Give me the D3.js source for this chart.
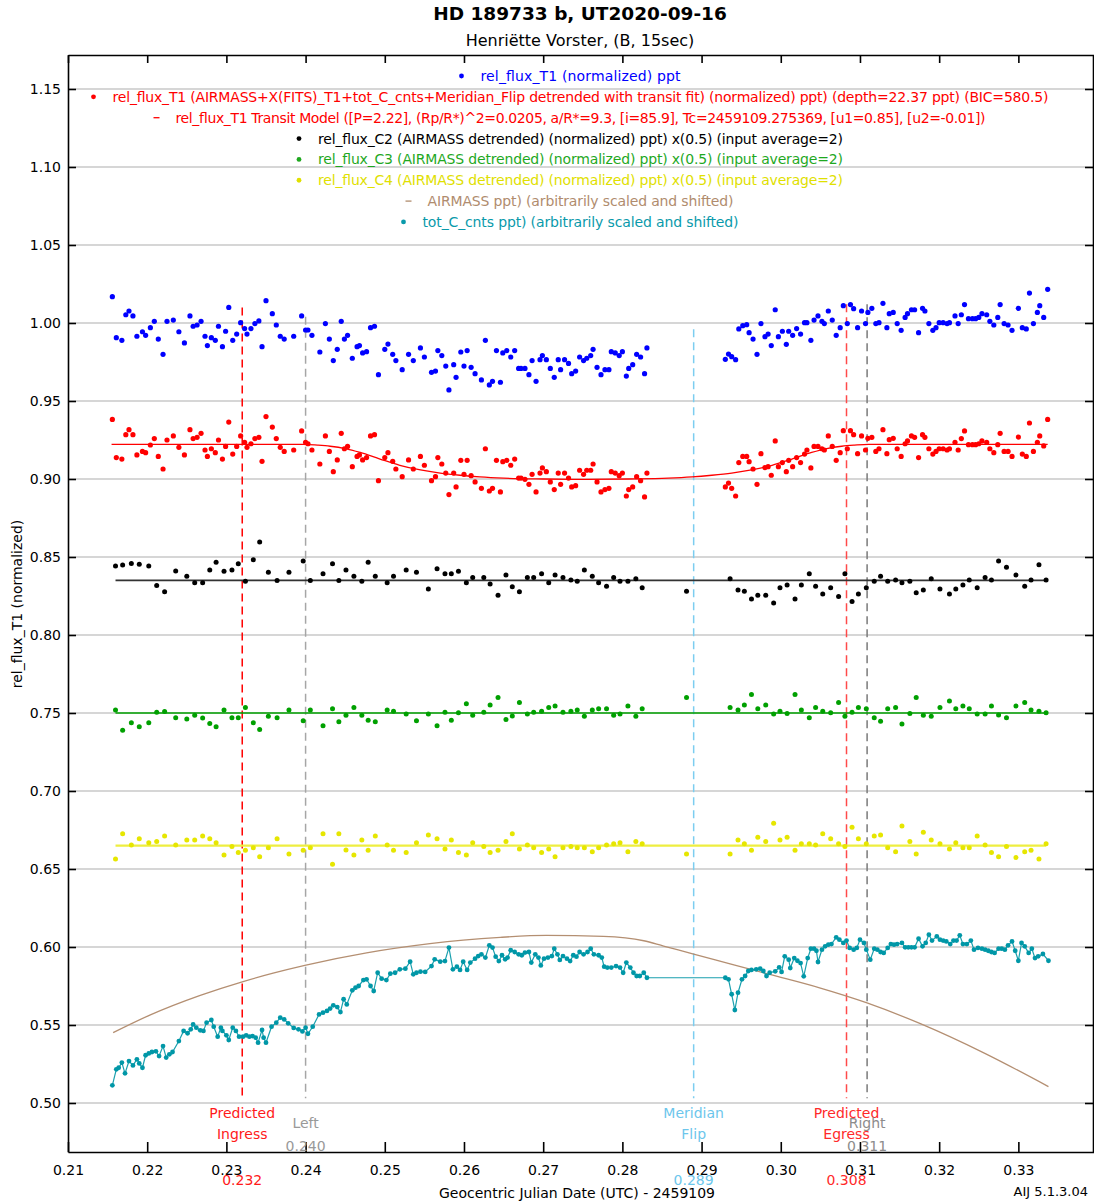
<!DOCTYPE html>
<html><head><meta charset="utf-8">
<script src="https://cdn.jsdelivr.net/npm/d3@7"></script>
<style>body{margin:0;background:#fff;} svg{display:block;font-family:"DejaVu Sans",sans-serif;}</style>
</head><body><svg id="c" width="1094" height="1204"></svg>
<script>
// ---------------- DATA ----------------
const t1Time = [0.2156,0.2161,0.2168,0.2173,0.2177,0.2182,0.2187,0.2194,0.2198,0.2204,
0.2209,0.2214,0.2220,0.2225,0.2233,0.2240,0.2247,0.2254,0.2258,0.2263,
0.2268,0.2273,0.2276,0.2281,0.2286,0.2290,0.2295,0.2299,0.2303,0.2308,
0.2313,0.2318,0.2323,0.2326,0.2331,0.2336,0.2341,0.2345,0.2350,0.2358,
0.2363,0.2368,0.2373,0.2385,0.2395,0.2400,0.2403,0.2408,0.2418,0.2425,
0.2430,0.2435,0.2440,0.2445,0.2449,0.2453,0.2459,0.2465,0.2468,0.2472,
0.2477,0.2482,0.2487,0.2492,0.2500,0.2504,0.2510,0.2514,0.2522,0.2530,
0.2536,0.2545,0.2550,0.2559,0.2564,0.2567,0.2572,0.2577,0.2581,0.2587,
0.2590,0.2596,0.2600,0.2604,0.2609,0.2614,0.2622,0.2627,0.2632,0.2636,
0.2641,0.2646,0.2649,0.2654,0.2659,0.2664,0.2669,0.2672,0.2677,0.2682,
0.2686,0.2691,0.2696,0.2699,0.2704,0.2709,0.2714,0.2719,0.2722,0.2727,
0.2732,0.2736,0.2741,0.2746,0.2751,0.2755,0.2760,0.2763,0.2768,0.2773,
0.2778,0.2783,0.2786,0.2791,0.2796,0.2800,0.2805,0.2808,0.2813,0.2818,
0.2823,0.2828,0.2831,
0.2930,0.2934,0.2938,0.2943,0.2947,0.2952,0.2957,0.2960,0.2965,0.2970,
0.2975,0.2980,0.2984,0.2988,0.2993,0.2997,0.3002,0.3007,0.3010,0.3015,
0.3020,0.3025,0.3030,0.3033,0.3038,0.3042,0.3047,0.3052,0.3055,0.3060,
0.3065,0.3070,0.3075,0.3079,0.3084,0.3088,0.3092,0.3097,0.3102,0.3107,
0.3110,0.3115,0.3120,0.3124,0.3129,0.3134,0.3137,0.3142,0.3147,0.3152,
0.3157,0.3160,0.3165,0.3169,0.3174,0.3179,0.3182,0.3187,0.3192,0.3196,
0.3200,0.3205,0.3210,0.3213,0.3220,0.3224,0.3228,0.3232,0.3237,0.3242,
0.3246,0.3250,0.3254,0.3260,0.3264,0.3269,0.3274,0.3277,0.3282,0.3287,
0.3292,0.3300,0.3305,0.3310,0.3314,0.3319,0.3324,0.3327,0.3332,0.3337];

const t1Flux = [1.0169,0.9906,0.9889,1.0053,1.0077,1.0045,0.9915,0.9944,0.9921,0.9970,
1.0011,0.9897,0.9799,1.0011,1.0019,0.9944,0.9872,1.0045,0.9979,0.9987,
1.0011,0.9915,0.9855,0.9906,0.9889,0.9979,0.9848,0.9947,1.0100,0.9889,
0.9929,1.0002,0.9964,0.9929,0.9964,0.9996,1.0013,0.9848,1.0143,1.0060,
0.9987,0.9915,0.9897,0.9915,1.0045,0.9955,0.9955,0.9921,0.9814,0.9996,
0.9897,0.9759,0.9831,1.0011,0.9897,0.9921,0.9774,0.9848,0.9855,0.9808,
0.9816,0.9970,0.9979,0.9669,0.9831,0.9865,0.9799,0.9759,0.9701,0.9799,
0.9759,0.9840,0.9782,0.9684,0.9692,0.9823,0.9791,0.9724,0.9571,0.9733,
0.9652,0.9814,0.9724,0.9823,0.9716,0.9675,0.9635,0.9889,0.9603,0.9626,
0.9823,0.9620,0.9808,0.9823,0.9782,0.9823,0.9709,0.9709,0.9709,0.9669,
0.9759,0.9626,0.9765,0.9791,0.9765,0.9709,0.9652,0.9765,0.9701,0.9765,
0.9741,0.9675,0.9692,0.9782,0.9759,0.9774,0.9791,0.9831,0.9716,0.9669,
0.9701,0.9701,0.9816,0.9808,0.9791,0.9816,0.9660,0.9709,0.9733,0.9799,
0.9782,0.9675,0.9840,
0.9767,0.9801,0.9784,0.9765,0.9962,0.9983,0.9989,0.9938,0.9897,0.9799,
0.9996,0.9912,0.9929,0.9855,1.0085,0.9912,0.9947,0.9863,0.9947,0.9921,
0.9964,0.9929,1.0002,1.0002,0.9889,1.0019,1.0045,1.0011,0.9996,1.0077,
1.0019,0.9921,0.9970,1.0111,0.9996,1.0118,1.0092,0.9970,1.0077,0.9996,
1.0068,1.0094,0.9996,1.0002,1.0126,0.9970,1.0060,1.0068,0.9996,0.9953,
1.0036,1.0060,1.0085,1.0085,0.9938,1.0094,1.0077,0.9996,0.9953,0.9970,
1.0002,1.0002,0.9996,1.0002,1.0045,0.9996,1.0053,1.0118,1.0028,1.0028,
1.0028,1.0036,1.0060,1.0053,1.0011,0.9987,1.0036,1.0118,0.9996,0.9987,
0.9953,1.0094,0.9970,0.9962,1.0192,0.9996,1.0068,1.0111,1.0036,1.0216];

const t1Detrended = [0.9382,0.9137,0.9128,0.9284,0.9316,0.9284,0.9154,0.9177,0.9169,0.9218,
0.9259,0.9145,0.9064,0.9250,0.9276,0.9203,0.9154,0.9316,0.9259,0.9267,
0.9293,0.9186,0.9145,0.9194,0.9169,0.9250,0.9128,0.9209,0.9365,0.9160,
0.9209,0.9276,0.9235,0.9203,0.9226,0.9259,0.9267,0.9113,0.9400,0.9333,
0.9259,0.9203,0.9177,0.9186,0.9308,0.9235,0.9226,0.9186,0.9096,0.9276,
0.9177,0.9047,0.9122,0.9293,0.9194,0.9209,0.9079,0.9145,0.9154,0.9122,
0.9137,0.9276,0.9284,0.8989,0.9137,0.9169,0.9113,0.9064,0.9015,0.9122,
0.9064,0.9145,0.9088,0.8989,0.9015,0.9137,0.9096,0.9038,0.8900,0.9038,
0.8949,0.9120,0.9030,0.9120,0.9021,0.8981,0.8940,0.9194,0.8923,0.8940,
0.9120,0.8917,0.9111,0.9120,0.9088,0.9128,0.9006,0.9006,0.8998,0.8966,
0.9030,0.8917,0.9038,0.9071,0.9047,0.8981,0.8932,0.9038,0.8966,0.9038,
0.9006,0.8949,0.8957,0.9056,0.9030,0.9056,0.9056,0.9096,0.8981,0.8917,
0.8932,0.8940,0.9047,0.9038,0.9021,0.9038,0.8891,0.8932,0.8949,0.9015,
0.8989,0.8885,0.9038,
0.8949,0.8974,0.8940,0.8891,0.9105,0.9145,0.9145,0.9111,0.9064,0.8966,
0.9162,0.9073,0.9079,0.9024,0.9244,0.9079,0.9105,0.9047,0.9120,0.9079,
0.9137,0.9105,0.9160,0.9186,0.9071,0.9209,0.9209,0.9194,0.9186,0.9276,
0.9209,0.9120,0.9169,0.9310,0.9194,0.9310,0.9284,0.9162,0.9276,0.9186,
0.9261,0.9267,0.9177,0.9194,0.9316,0.9162,0.9252,0.9261,0.9194,0.9145,
0.9226,0.9244,0.9276,0.9267,0.9137,0.9284,0.9267,0.9194,0.9160,0.9177,
0.9194,0.9194,0.9186,0.9194,0.9235,0.9186,0.9259,0.9308,0.9220,0.9220,
0.9220,0.9226,0.9244,0.9235,0.9194,0.9169,0.9220,0.9293,0.9177,0.9177,
0.9145,0.9269,0.9160,0.9145,0.9359,0.9177,0.9235,0.9276,0.9212,0.9382];

const modelTime = [0.2155,0.2397,0.2415,0.2431,0.2450,0.2469,0.2494,0.2519,0.2545,0.2570,0.2595,0.2620,0.2650,0.2700,0.2754,
0.2808,0.2858,0.2888,0.2913,0.2938,0.2963,0.2989,0.3014,0.3039,0.3058,0.3077,0.3093,0.3111,0.3337];
const modelFlux = [0.9222,0.9222,0.9217,0.9210,0.9195,0.9170,0.9128,0.9088,0.9058,0.9038,0.9024,0.9013,0.9005,0.9000,0.8998,
0.9000,0.9005,0.9013,0.9024,0.9038,0.9058,0.9088,0.9128,0.9170,0.9195,0.9210,0.9217,0.9222,0.9222];

const compTime = [0.2160,0.2169,0.2180,0.2190,0.2202,0.2212,0.2222,0.2236,0.2250,0.2260,
0.2270,0.2279,0.2287,0.2297,0.2307,0.2315,0.2324,0.2334,0.2342,0.2353,
0.2364,0.2379,0.2397,0.2406,0.2422,0.2434,0.2442,0.2451,0.2461,0.2471,
0.2479,0.2488,0.2503,0.2511,0.2527,0.2540,0.2555,0.2566,0.2576,0.2584,
0.2593,0.2603,0.2611,0.2625,0.2633,0.2643,0.2653,0.2661,0.2670,0.2680,
0.2688,0.2698,0.2707,0.2715,
0.2725,0.2735,0.2743,0.2752,0.2762,0.2770,0.2780,0.2789,0.2797,0.2807,
0.2817,0.2825,0.2881,0.2936,0.2946,0.2954,0.2963,0.2971,0.2981,0.2991,
0.2999,0.3008,0.3018,0.3026,0.3036,0.3044,0.3053,0.3063,0.3073,0.3081,
0.3090,0.3098,0.3108,0.3118,0.3126,0.3135,0.3145,0.3153,0.3163,0.3171,
0.3180,0.3190,0.3201,0.3213,0.3221,0.3230,0.3238,0.3248,0.3258,0.3266,
0.3275,0.3285,0.3297,0.3308,0.3316,0.3326,0.3335];

const c2Flux = [0.8442,0.8449,0.8459,0.8453,0.8442,0.8318,0.8278,0.8410,0.8376,0.8335,
0.8335,0.8417,0.8466,0.8408,0.8417,0.8457,0.8344,0.8483,0.8596,0.8402,
0.8350,0.8402,0.8474,0.8350,0.8393,0.8457,0.8350,0.8417,0.8376,0.8344,
0.8466,0.8376,0.8335,0.8376,0.8417,0.8402,0.8295,0.8425,0.8393,0.8393,
0.8408,0.8335,0.8368,0.8368,0.8327,0.8254,0.8385,0.8310,0.8278,0.8368,
0.8368,0.8393,0.8335,0.8385,
0.8368,0.8353,0.8344,0.8417,0.8376,0.8335,0.8312,0.8368,0.8344,0.8344,
0.8361,0.8303,0.8280,0.8361,0.8288,0.8280,0.8231,0.8254,0.8254,0.8205,
0.8303,0.8321,0.8231,0.8321,0.8393,0.8312,0.8263,0.8303,0.8246,0.8393,
0.8214,0.8263,0.8303,0.8344,0.8376,0.8344,0.8353,0.8335,0.8344,0.8271,
0.8288,0.8361,0.8295,0.8263,0.8295,0.8321,0.8353,0.8303,0.8368,0.8353,
0.8474,0.8434,0.8385,0.8312,0.8353,0.8451,0.8353];

const c3Flux = [0.7519,0.7389,0.7438,0.7412,0.7438,0.7504,0.7509,0.7470,0.7462,0.7485,
0.7468,0.7432,0.7412,0.7519,0.7470,0.7470,0.7536,0.7438,0.7395,0.7479,
0.7470,0.7519,0.7451,0.7519,0.7419,0.7528,0.7444,0.7485,0.7536,0.7485,
0.7453,0.7444,0.7519,0.7511,0.7494,0.7451,0.7494,0.7419,0.7504,0.7453,
0.7502,0.7560,0.7485,0.7504,0.7551,0.7600,0.7459,0.7481,0.7568,0.7494,
0.7504,0.7511,0.7536,0.7545,0.7504,0.7511,0.7519,0.7479,0.7519,0.7528,
0.7528,0.7485,0.7494,0.7545,0.7479,0.7528,
0.7600,
0.7536,0.7519,0.7551,0.7618,0.7528,0.7551,0.7494,0.7511,0.7496,0.7618,
0.7519,0.7470,0.7536,0.7511,0.7502,0.7568,0.7479,0.7504,0.7536,0.7528,
0.7470,0.7447,0.7528,0.7536,0.7429,0.7496,0.7600,0.7485,0.7479,0.7536,
0.7577,0.7528,0.7545,0.7528,0.7494,0.7494,0.7545,0.7487,0.7470,0.7545,
0.7568,0.7519,0.7511,0.7502];

const c4Flux = [0.6564,0.6726,0.6654,0.6694,0.6669,0.6677,0.6712,0.6654,0.6686,0.6686,
0.6712,0.6694,0.6669,0.6590,0.6645,0.6605,0.6620,0.6637,0.6579,0.6637,
0.6694,0.6596,0.6620,0.6637,0.6726,0.6530,0.6726,0.6622,0.6590,0.6686,
0.6620,0.6712,0.6654,0.6620,0.6605,0.6669,0.6718,0.6694,0.6628,0.6686,
0.6605,0.6590,0.6669,0.6645,0.6605,0.6620,0.6677,0.6726,0.6628,0.6654,
0.6637,0.6605,0.6628,0.6579,0.6637,0.6645,0.6637,0.6637,0.6611,0.6637,
0.6654,0.6662,0.6669,0.6611,0.6677,0.6662,
0.6596,
0.6596,0.6686,0.6662,0.6620,0.6703,0.6677,0.6793,0.6686,0.6703,0.6620,
0.6662,0.6662,0.6654,0.6726,0.6694,0.6662,0.6645,0.6767,0.6694,0.6662,
0.6712,0.6718,0.6637,0.6611,0.6776,0.6677,0.6596,0.6735,0.6686,0.6662,
0.6628,0.6669,0.6637,0.6637,0.6712,0.6654,0.6605,0.6579,0.6645,0.6573,
0.6611,0.6620,0.6564,0.6662];

const compFit = [0.835, 0.750, 0.665];  // C2, C3, C4 detrended levels

const totTime = [0.2156,0.2161,0.2164,0.2168,0.2172,0.2177,0.2182,0.2187,0.2190,0.2194,
0.2198,0.2202,0.2206,0.2211,0.2215,0.2220,0.2224,0.2228,0.2232,0.2240,
0.2246,0.2251,0.2255,0.2258,0.2262,0.2267,0.2271,0.2275,0.2281,0.2284,
0.2289,0.2293,0.2295,0.2300,0.2303,0.2308,0.2312,0.2316,0.2321,0.2325,
0.2329,0.2333,0.2337,0.2340,0.2345,0.2347,0.2350,0.2357,0.2363,0.2368,
0.2373,0.2378,0.2385,0.2391,0.2396,0.2400,0.2403,0.2409,0.2417,0.2422,
0.2427,0.2431,0.2435,0.2440,0.2444,0.2448,0.2452,0.2459,0.2463,0.2467,
0.2473,0.2477,0.2482,0.2486,0.2491,0.2496,0.2502,0.2507,0.2513,0.2519,
0.2526,0.2532,0.2536,0.2540,0.2545,0.2551,0.2559,0.2563,0.2570,
0.2576,0.2581,0.2586,0.2591,0.2595,0.2599,0.2604,0.2608,0.2614,0.2618,
0.2622,0.2627,0.2632,0.2636,0.2640,0.2644,0.2648,0.2652,0.2655,0.2659,
0.2664,0.2669,0.2673,0.2677,0.2682,0.2685,0.2690,0.2694,0.2697,0.2701,
0.2706,0.2711,0.2714,0.2718,0.2721,0.2725,0.2730,0.2734,0.2738,0.2742,
0.2746,0.2751,0.2756,0.2760,0.2764,0.2770,0.2774,0.2777,0.2781,0.2786,
0.2792,0.2797,0.2801,0.2805,0.2810,0.2814,0.2818,0.2822,0.2827,0.2831,
0.2930,0.2934,0.2938,0.2942,0.2946,0.2951,0.2955,0.2959,0.2963,0.2969,
0.2974,0.2978,0.2982,0.2986,
0.2993,0.2998,0.3001,0.3005,0.3010,0.3012,0.3017,0.3021,0.3025,0.3029,
0.3034,0.3038,0.3042,0.3045,0.3047,0.3052,0.3056,0.3060,0.3064,0.3070,
0.3074,0.3079,0.3083,0.3087,0.3092,0.3096,0.3100,0.3105,0.3108,0.3113,
0.3118,0.3122,0.3126,0.3130,0.3135,0.3139,0.3143,0.3147,0.3153,0.3157,
0.3161,0.3165,0.3169,0.3174,0.3179,0.3183,0.3187,0.3191,0.3197,0.3201,
0.3205,0.3209,0.3214,0.3218,0.3222,0.3226,0.3230,0.3235,0.3240,0.3244,
0.3249,0.3254,0.3258,0.3262,0.3266,0.3270,0.3275,0.3279,0.3283,0.3287,
0.3292,0.3296,0.3300,0.3304,0.3308,0.3313,0.3317,0.3321,0.3325,0.3331,0.3338];

const totCnts = [0.5113,0.5216,0.5226,0.5259,0.5190,0.5269,0.5241,0.5280,0.5254,0.5226,
0.5306,0.5318,0.5327,0.5331,0.5301,0.5365,0.5291,0.5312,0.5327,0.5397,
0.5462,0.5447,0.5472,0.5504,0.5483,0.5466,0.5462,0.5515,0.5532,0.5489,
0.5425,0.5483,0.5462,0.5434,0.5404,0.5483,0.5462,0.5425,0.5425,0.5434,
0.5425,0.5429,0.5419,0.5387,0.5468,0.5419,0.5387,0.5489,0.5515,0.5547,
0.5536,0.5511,0.5481,0.5472,0.5459,0.5483,0.5444,0.5489,0.5568,0.5579,
0.5590,0.5605,0.5626,0.5615,0.5583,0.5665,0.5632,0.5722,0.5739,0.5750,
0.5788,0.5793,0.5750,0.5718,0.5835,0.5797,0.5788,0.5829,0.5835,0.5857,
0.5861,0.5906,0.5825,0.5835,0.5842,0.5840,0.5878,0.5921,0.5906,
0.5910,0.5996,0.5857,0.5874,0.5853,0.5906,0.5853,0.5900,0.5925,0.5942,
0.5953,0.5932,0.6011,0.5996,0.5938,0.5910,0.5947,0.5921,0.5932,0.5979,
0.5968,0.5953,0.5947,0.5964,0.5968,0.5900,0.5953,0.5932,0.5882,0.5925,
0.5932,0.5942,0.5989,0.5953,0.5917,0.5942,0.5925,0.5910,0.5947,0.5938,
0.5968,0.5953,0.5968,0.5989,0.5953,0.5947,0.5932,0.5874,0.5868,0.5868,
0.5878,0.5868,0.5835,0.5900,0.5868,0.5835,0.5814,0.5814,0.5835,0.5803,
0.5803,0.5793,0.5697,0.5596,0.5707,0.5793,0.5814,0.5846,0.5853,0.5857,
0.5861,0.5846,0.5814,0.5835,
0.5844,0.5870,0.5840,0.5940,0.5919,0.5865,0.5929,0.5912,0.5897,0.5812,
0.5929,0.5989,0.5989,0.5976,0.5904,0.5983,0.6004,0.6015,0.6019,0.6062,
0.6047,0.6026,0.6041,0.5994,0.5983,0.5994,0.6047,0.6026,0.5983,0.5919,
0.5989,0.5983,0.5968,0.5962,0.5994,0.6019,0.6015,0.6019,0.6026,0.5998,
0.5998,0.5998,0.5998,0.6053,0.6004,0.6026,0.6079,0.6041,0.6068,0.6047,
0.6041,0.6036,0.6019,0.6041,0.6041,0.6075,0.6019,0.6019,0.6041,0.5983,
0.5994,0.5989,0.5983,0.5976,0.5968,0.5962,0.5989,0.5989,0.5983,0.6011,
0.6036,0.5976,0.5912,0.6026,0.6004,0.5962,0.5989,0.5929,0.5940,0.5955,0.5912];

const airmassTime = [0.2157,0.2204,0.2267,0.2320,0.2359,0.2399,0.2477,0.2557,0.2599,0.2646,0.2704,
0.2776,0.2827,0.2852,0.2890,0.2936,0.2986,0.3049,0.3108,0.3177,0.3257,0.3338];
const airmassVal = [0.5451,0.5565,0.5690,0.5777,0.5832,0.5882,0.5962,0.6021,0.6044,0.6062,0.6074,
0.6068,0.6040,0.6006,0.5955,0.5892,0.5824,0.5738,0.5643,0.5507,0.5320,0.5105];

const markerTime = [0.2320, 0.2400, 0.2890, 0.3083, 0.3109];
const markerTop = [1.010, 1.004, 0.996, 1.012, 1.012];
const markerName = [["Predicted","Ingress"],["Left"],["Meridian","Flip"],["Predicted","Egress"],["Right"]];
const markerValue = ["0.232","0.240","0.289","0.308","0.311"];

const xTicks = [0.21,0.22,0.23,0.24,0.25,0.26,0.27,0.28,0.29,0.30,0.31,0.32,0.33];
const yTicks = [0.50,0.55,0.60,0.65,0.70,0.75,0.80,0.85,0.90,0.95,1.00,1.05,1.10,1.15];

const legendText = [
 "rel_flux_T1 (normalized) ppt",
 "rel_flux_T1 (AIRMASS+X(FITS)_T1+tot_C_cnts+Meridian_Flip detrended with transit fit) (normalized) ppt) (depth=22.37 ppt) (BIC=580.5)",
 "rel_flux_T1 Transit Model ([P=2.22], (Rp/R*)^2=0.0205, a/R*=9.3, [i=85.9], Tc=2459109.275369, [u1=0.85], [u2=-0.01])",
 "rel_flux_C2 (AIRMASS detrended) (normalized) ppt) x(0.5) (input average=2)",
 "rel_flux_C3 (AIRMASS detrended) (normalized) ppt) x(0.5) (input average=2)",
 "rel_flux_C4 (AIRMASS detrended) (normalized) ppt) x(0.5) (input average=2)",
 "AIRMASS ppt) (arbitrarily scaled and shifted)",
 "tot_C_cnts ppt) (arbitrarily scaled and shifted)"];
const legendKind = ["dot","dot","dash","dot","dot","dot","dash","dot"];

// ---------------- STYLE / LAYOUT ----------------
const COL = {blue:"#0000ff", red:"#ff0000", black:"#000000", green:"#00a000", yellow:"#e6e600",
  brown:"#b48f72", cyan:"#0097a7"};
const legendColor = [COL.blue, COL.red, COL.red, COL.black, "#1fa81f", "#e0e000", "#b08c6e", "#0a9aab"];
const legendWidth = [200, 936, 810, 525, 525, 525, 306, 316];   // text widths in px as in the reference
const markerColor = ["#ff0000","#a6a6a6","#7ccdf0","#ff4a4a","#7a7a7a"];
const markerTextColor = ["#ff1a1a","#999999","#6cc6ec","#ff2a2a","#8c8c8c"];

// ---------------- CHART ----------------
const W=1094, H=1204;
const M={left:68, right:1094, top:55, bottom:1152};
const x=d3.scaleLinear().domain([0.21,0.33955]).range([M.left,M.right]);
const y=d3.scaleLinear().domain([0.46859,1.17179]).range([M.bottom,M.top]);
const svg=d3.select("#c");
svg.append("rect").attr("width",W).attr("height",H).attr("fill","#fff");

// gridlines
svg.append("g").selectAll("line").data(yTicks).join("line")
  .attr("x1",M.left).attr("x2",M.right).attr("y1",d=>y(d)).attr("y2",d=>y(d))
  .attr("stroke","#c8c8c8").attr("stroke-width",1.6);

// marker lines
markerTime.forEach((t,i)=>{
  svg.append("line").attr("x1",x(t)).attr("x2",x(t)).attr("y1",y(markerTop[i])).attr("y2",y(0.503))
    .attr("stroke",markerColor[i]).attr("stroke-width",1.5).attr("stroke-dasharray","8,5");
});

// airmass
svg.append("path").datum(airmassTime.map((t,i)=>[t,airmassVal[i]]))
  .attr("d",d3.line().x(d=>x(d[0])).y(d=>y(d[1])).curve(d3.curveMonotoneX))
  .attr("fill","none").attr("stroke",COL.brown).attr("stroke-width",1.3);

// tot_C_cnts
const totData = totTime.map((t,i)=>[t,totCnts[i]]);
svg.append("path").datum(totData)
  .attr("d",d3.line().x(d=>x(d[0])).y(d=>y(d[1])))
  .attr("fill","none").attr("stroke","#1aa0ae").attr("stroke-width",1.2);
svg.append("g").selectAll("circle").data(totData).join("circle")
  .attr("cx",d=>x(d[0])).attr("cy",d=>y(d[1])).attr("r",2.4).attr("fill",COL.cyan);

// fit lines for comparison stars
const compColors=["#333333", COL.green, "#eeee40"];
const compWidths=[1.6,1.6,2.2];
compFit.forEach((v,i)=>{
  svg.append("line").attr("x1",x(compTime[0])).attr("x2",x(compTime[compTime.length-1]))
    .attr("y1",y(v)).attr("y2",y(v)).attr("stroke",compColors[i]).attr("stroke-width",compWidths[i]);
});

function dots(times, vals, color, r){
  svg.append("g").selectAll("circle").data(times.map((t,i)=>[t,vals[i]])).join("circle")
    .attr("cx",d=>x(d[0])).attr("cy",d=>y(d[1])).attr("r",r).attr("fill",color);
}
dots(compTime, c4Flux, COL.yellow, 2.5);
dots(compTime, c3Flux, COL.green, 2.5);
dots(compTime, c2Flux, COL.black, 2.5);
dots(t1Time, t1Detrended, COL.red, 2.6);
dots(t1Time, t1Flux, COL.blue, 2.6);

// transit model
svg.append("path").datum(modelTime.map((t,i)=>[t,modelFlux[i]]))
  .attr("d",d3.line().x(d=>x(d[0])).y(d=>y(d[1])).curve(d3.curveMonotoneX))
  .attr("fill","none").attr("stroke",COL.red).attr("stroke-width",1.3);

// axes
const fmt=d3.format(".2f");
const gL=svg.append("g").attr("transform",`translate(${M.left},0)`)
  .call(d3.axisLeft(y).tickValues(yTicks).tickFormat(fmt).tickSizeInner(-8).tickSizeOuter(0).tickPadding(7));
const gB=svg.append("g").attr("transform",`translate(0,${M.bottom})`)
  .call(d3.axisBottom(x).tickValues(xTicks).tickFormat(fmt).tickSizeInner(-10).tickSizeOuter(0).tickPadding(13));
const gT=svg.append("g").attr("transform",`translate(0,${M.top})`)
  .call(d3.axisTop(x).tickValues(xTicks).tickFormat("").tickSizeInner(-8).tickSizeOuter(0));
const gR=svg.append("g").attr("transform",`translate(${M.right-1},0)`)
  .call(d3.axisRight(y).tickValues(yTicks).tickFormat("").tickSizeInner(-8).tickSizeOuter(0));
[gL,gB,gT,gR].forEach(g=>{
  g.selectAll("path").attr("stroke","#000").attr("stroke-width",1.6);
  g.selectAll("line").attr("stroke","#000").attr("stroke-width",1.6);
  g.selectAll("text").attr("font-size",14).attr("fill","#000").attr("font-family","DejaVu Sans");
});

// marker labels
markerTime.forEach((t,i)=>{
  const names=markerName[i];
  const g=svg.append("g").attr("fill",markerTextColor[i]).attr("font-size",14).attr("text-anchor","middle");
  if(names.length===2){
    g.append("text").attr("x",x(t)).attr("y",1118).text(names[0]);
    g.append("text").attr("x",x(t)).attr("y",1139).text(names[1]);
    g.append("text").attr("x",x(t)).attr("y",1185).text(markerValue[i]);
  } else {
    g.append("text").attr("x",x(t)).attr("y",1128).text(names[0]);
    g.append("text").attr("x",x(t)).attr("y",1151).text(markerValue[i]);
  }
});

// titles
svg.append("text").attr("x",580).attr("y",20).attr("text-anchor","middle")
  .attr("font-size",18.5).attr("font-weight","bold").text("HD 189733 b, UT2020-09-16");
svg.append("text").attr("x",580).attr("y",46).attr("text-anchor","middle")
  .attr("font-size",16).text("Henriëtte Vorster, (B, 15sec)");
svg.append("text").attr("transform","translate(22,604) rotate(-90)").attr("text-anchor","middle")
  .attr("font-size",14).text("rel_flux_T1 (normalized)");
svg.append("text").attr("x",577).attr("y",1198).attr("text-anchor","middle")
  .attr("font-size",14).text("Geocentric Julian Date (UTC) - 2459109");
svg.append("text").attr("x",1088).attr("y",1196).attr("text-anchor","end")
  .attr("font-size",13).text("AIJ 5.1.3.04");

// legend
legendText.forEach((txt,i)=>{
  const yb = 81 + i*20.85;
  const g = svg.append("g");
  const w = legendWidth[i];
  const gap = 19;
  const start = 571 - (gap + w)/2;
  g.append("text").attr("font-size",14).attr("fill",legendColor[i]).attr("y",yb)
    .attr("x", start + gap).attr("textLength", w).attr("lengthAdjust","spacing").text(txt);
  if(legendKind[i]==="dot"){
    g.append("circle").attr("cx",start).attr("cy",yb-5).attr("r",2.4).attr("fill",legendColor[i]);
  } else {
    g.append("line").attr("x1",start-3).attr("x2",start+3).attr("y1",yb-5).attr("y2",yb-5)
      .attr("stroke",legendColor[i]).attr("stroke-width",1.3);
  }
});
</script></body></html>
